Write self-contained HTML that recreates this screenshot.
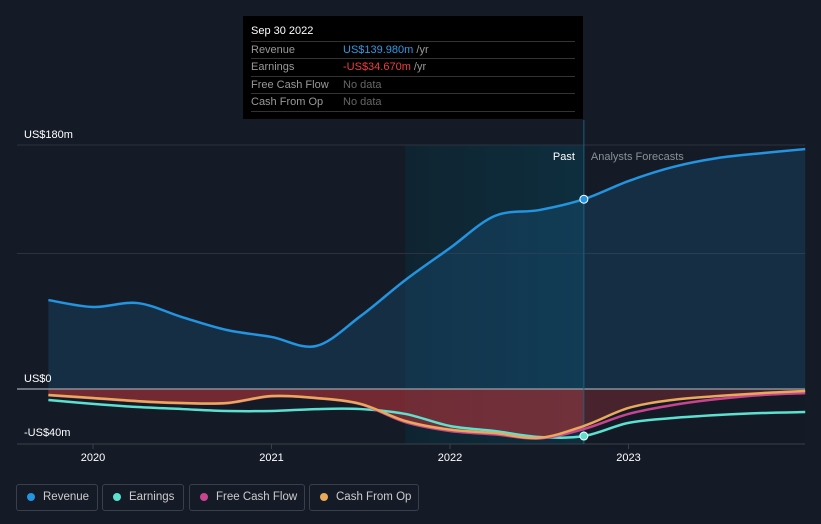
<!DOCTYPE html>
<html><head><meta charset="utf-8">
<style>
body{margin:0;background:#151b26;font-family:"Liberation Sans",sans-serif;}
#wrap{position:relative;width:821px;height:524px;overflow:hidden;background:#151b26;}
svg{position:absolute;left:0;top:0;}
.tip{position:absolute;left:243px;top:16px;width:340px;height:103px;background:#000;color:#fff;font-size:11px;}
.tip .h{position:absolute;left:8px;top:9px;font-size:11px;}
.row{position:absolute;left:8px;width:324px;height:17px;border-top:1px solid #333;color:#999;line-height:17px;}
.row span{position:absolute;left:92px;}
.leg{position:absolute;top:484px;height:27px;border:1px solid #3a404b;border-radius:3px;color:#ccc;font-size:11.5px;line-height:25px;box-sizing:border-box;white-space:nowrap;}
.leg i{display:inline-block;width:8px;height:8px;border-radius:50%;margin:0 8px 0 10px;vertical-align:-1px;}
</style></head><body>
<div id="wrap">
<svg id="chart" width="821" height="524"></svg>
<div class="tip">
<div class="h">Sep 30 2022</div>
<div class="row" style="top:25px">Revenue<span><b style="font-weight:normal;color:#2d9ae6">US$139.980m</b> /yr</span></div>
<div class="row" style="top:42px">Earnings<span><b style="font-weight:normal;color:#f03e3e">-US$34.670m</b> /yr</span></div>
<div class="row" style="top:60px">Free Cash Flow<span style="color:#666">No data</span></div>
<div class="row" style="top:77px;height:17px;border-bottom:1px solid #333">Cash From Op<span style="color:#666">No data</span></div>
</div>
<div class="leg" style="left:16px;width:82px"><i style="background:#2394e0"></i>Revenue</div>
<div class="leg" style="left:102px;width:82px"><i style="background:#5ce0d0"></i>Earnings</div>
<div class="leg" style="left:189px;width:116px"><i style="background:#c84490"></i>Free Cash Flow</div>
<div class="leg" style="left:309px;width:110px"><i style="background:#e8a95a"></i>Cash From Op</div>
</div>
<script>
const times=[2019.75,2020,2020.25,2020.5,2020.75,2021,2021.25,2021.5,2021.75,2022,2022.25,2022.5,2022.75,2023,2023.25,2023.5,2023.75,2023.99];
const revenue=[65.6,60.5,63.4,53,43.5,38.4,31.7,53.9,80.4,104,127.6,132,140,153.4,163.8,170.4,174,177];
const earnings=[-8.1,-11,-13.3,-14.8,-16.2,-16.2,-14.8,-14.8,-18.4,-27.3,-31,-35.4,-34.7,-25,-21.4,-19.2,-17.7,-17];
const cashFromOp=[-4.4,-6.6,-8.9,-10.3,-10.3,-5.2,-6.6,-11,-23.6,-30,-32.5,-36,-27.3,-14,-8,-5.2,-3,-1.5];
const freeCashFlow=[-4.6,-6.8,-9.1,-10.5,-10.5,-5.4,-6.8,-11.3,-24.5,-31,-33.5,-36.5,-29.5,-18.4,-11.8,-7.4,-4.4,-3];
const yTicks=[180,0,-40];
const yTickLabels=["US$180m","US$0","-US$40m"];
const xTicks=[2020,2021,2022,2023];
const xTickLabels=["2020","2021","2022","2023"];
const NS="http://www.w3.org/2000/svg";
const X=t=>93+(t-2020)*178.5;
const Y=v=>389-v*1.3556;
const svg=document.getElementById('chart');
function el(tag,attrs,parent){const e=document.createElementNS(NS,tag);for(const k in attrs)e.setAttribute(k,attrs[k]);(parent||svg).appendChild(e);return e;}
function path(vals){const p=times.map((t,i)=>[X(t),Y(vals[i])]);let d="M"+p[0][0]+","+p[0][1];
for(let i=0;i<p.length-1;i++){const p0=p[i-1]||p[i],p1=p[i],p2=p[i+1],p3=p[i+2]||p2;
d+=" C"+(p1[0]+(p2[0]-p0[0])/6)+","+(p1[1]+(p2[1]-p0[1])/6)+" "+(p2[0]-(p3[0]-p1[0])/6)+","+(p2[1]-(p3[1]-p1[1])/6)+" "+p2[0]+","+p2[1];}return d;}
const defs=el('defs',{});
const g1=el('linearGradient',{id:'hl',x1:0,x2:1,y1:0,y2:0},defs);
el('stop',{offset:0,'stop-color':'#0f2431'},g1);el('stop',{offset:1,'stop-color':'#0e2e3e'},g1);
let r=el('rect',{x:X(2021.75),y:145,width:X(2022.75)-X(2021.75),height:299,fill:'url(#hl)'});

[180,100].forEach(v=>{const l=el('line',{x1:17,x2:805,y1:Y(v),y2:Y(v),stroke:'#2c333e'});});
const x0=X(times[0]),xN=X(times[times.length-1]);
let a=el('path',{d:path(revenue)+" L"+xN+","+Y(0)+" L"+x0+","+Y(0)+"Z",fill:'#1a5c8a','fill-opacity':0.3});

let b=el('path',{d:path(cashFromOp)+" L"+xN+","+Y(0)+" L"+x0+","+Y(0)+"Z",fill:'#b3343a','fill-opacity':0.6});

let f=el('rect',{x:X(2022.75),y:Y(0),width:xN-X(2022.75),height:60,fill:'#151b26','fill-opacity':0.45});

let z=el('line',{x1:17,x2:805,y1:Y(0),y2:Y(0),stroke:'#8a8f98','stroke-width':1.5});
let ax=el('line',{x1:17,x2:805,y1:444,y2:444,stroke:'#3a404b'});
let vl=el('line',{x1:X(2022.75),x2:X(2022.75),y1:120,y2:444,stroke:'#1f5f78'});
[[earnings,'#5ce0d0','earnings-line'],[freeCashFlow,'#c84490','free-cash-flow-line'],[cashFromOp,'#e8a95a','cash-from-op-line'],[revenue,'#2394e0','revenue-line']].forEach(s=>{
const p=el('path',{d:path(s[0]),fill:'none',stroke:s[1],'stroke-width':2.5});});
const i12=12;
let d1=el('circle',{cx:X(times[i12]),cy:Y(revenue[i12]),r:4,fill:'#2394e0',stroke:'#fff','stroke-width':1});
let d2=el('circle',{cx:X(times[i12]),cy:Y(earnings[i12]),r:4,fill:'#5ce0d0',stroke:'#fff','stroke-width':1});
yTicks.forEach((v,i)=>{const t=el('text',{x:24,y:Y(v)-7,fill:'#fff','font-size':11});t.textContent=yTickLabels[i];});
xTicks.forEach((v,i)=>{el('line',{x1:X(v),x2:X(v),y1:444,y2:449,stroke:'#3a404b'});const t=el('text',{x:X(v),y:461,fill:'#fff','font-size':11,'text-anchor':'middle'});t.textContent=xTickLabels[i];});
let tp=el('text',{x:X(2022.75)-9,y:160,fill:'#fff','font-size':11,'text-anchor':'end'});tp.textContent='Past';
let tf=el('text',{x:X(2022.75)+7,y:160,fill:'#8a8f98','font-size':11});tf.textContent='Analysts Forecasts';
</script>
</body></html>
